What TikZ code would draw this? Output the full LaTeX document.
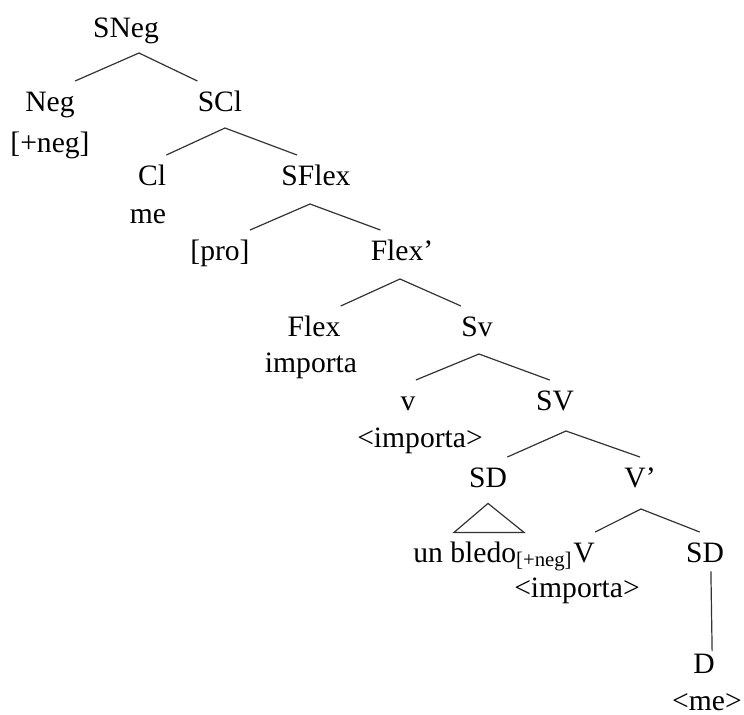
\documentclass[tikz,border=0pt]{standalone}
\usepackage{fontspec}
\setmainfont{Liberation Serif}
\tikzset{
  cat/.style={anchor=base,inner xsep=0pt,inner ysep=5pt,text height=9.8pt,text depth=3pt},
  word/.style={anchor=base,inner sep=0pt},
  branch/.style={line width=0.6pt,draw=black!80},
}
\begin{document}
\begin{tikzpicture}[x=0.5pt,y=-0.5pt,font=\fontsize{14.8}{17}\selectfont]
  \useasboundingbox (0,0) rectangle (744,714);
  % nodes
  \node[cat](sneg) at (126,37) {SNeg};
  \node[cat](neg) at (50,111) {Neg};
  \node[word](negf) at (50,152) {[+neg]};
  \node[cat](scl) at (220,111) {SCl};
  \node[cat](cl) at (152,185) {Cl};
  \node[word](clme) at (148,223) {me};
  \node[cat](sflex) at (316,185) {SFlex};
  \node[cat](pro) at (220,260) {[pro]};
  \node[cat](flexb) at (402,260) {Flex'};
  \node[cat](flex) at (314,336) {Flex};
  \node[word](flexv) at (311,372) {importa};
  \node[cat](sv) at (477,336) {Sv};
  \node[cat](v) at (408,410) {v};
  \node[word](vtr) at (420,447) {<importa>};
  \node[cat](sV) at (555,410) {SV};
  \node[cat](sd) at (488,487) {SD};
  \node[cat](vbar) at (640,487) {V'};
  \node[cat,anchor=base west](bledo) at (413,562) {un bledo\textsubscript{[+neg]}};
  \node[cat,anchor=base west](verb) at (bledo.base east) {V};
  \node[word](verbtr) at (577,597) {<importa>};
  \node[cat](sdb) at (705,562) {SD};
  \node[cat](d) at (704,673) {D};
  \node[word](dtr) at (707,710) {<me>};
  % branching points
  \coordinate (a1) at (139,53);
  \coordinate (a2) at (225,128);
  \coordinate (a3) at (310,204);
  \coordinate (a4) at (400,279);
  \coordinate (a5) at (479,354);
  \coordinate (a6) at (566,431);
  \coordinate (a7) at (641,509);
  % branches
  \draw[branch] (neg.north east) -- (a1) -- (scl.north west);
  \draw[branch] (cl.north east) -- (a2) -- ([xshift=8]sflex.north west);
  \draw[branch] (pro.north east) -- (a3) -- ([xshift=5]flexb.north west);
  \draw[branch] (flex.north east) -- (a4) -- (sv.north west);
  \draw[branch] (v.north east) -- (a5) -- ([xshift=7]sV.north west);
  \draw[branch] (sd.north east) -- (a6) -- ([xshift=8]vbar.north west);
  \draw[branch] (verb.north east) -- (a7) -- ([xshift=7]sdb.north west);
  \draw[branch,shorten <=-3.5pt,shorten >=-4pt] ([xshift=3]sdb.south) -- ([xshift=4]d.north);
  % roof over the DP
  \draw[branch] (sd.south) -- ++(-34,29) -- ++(70,0) -- cycle;
\end{tikzpicture}
\end{document}
